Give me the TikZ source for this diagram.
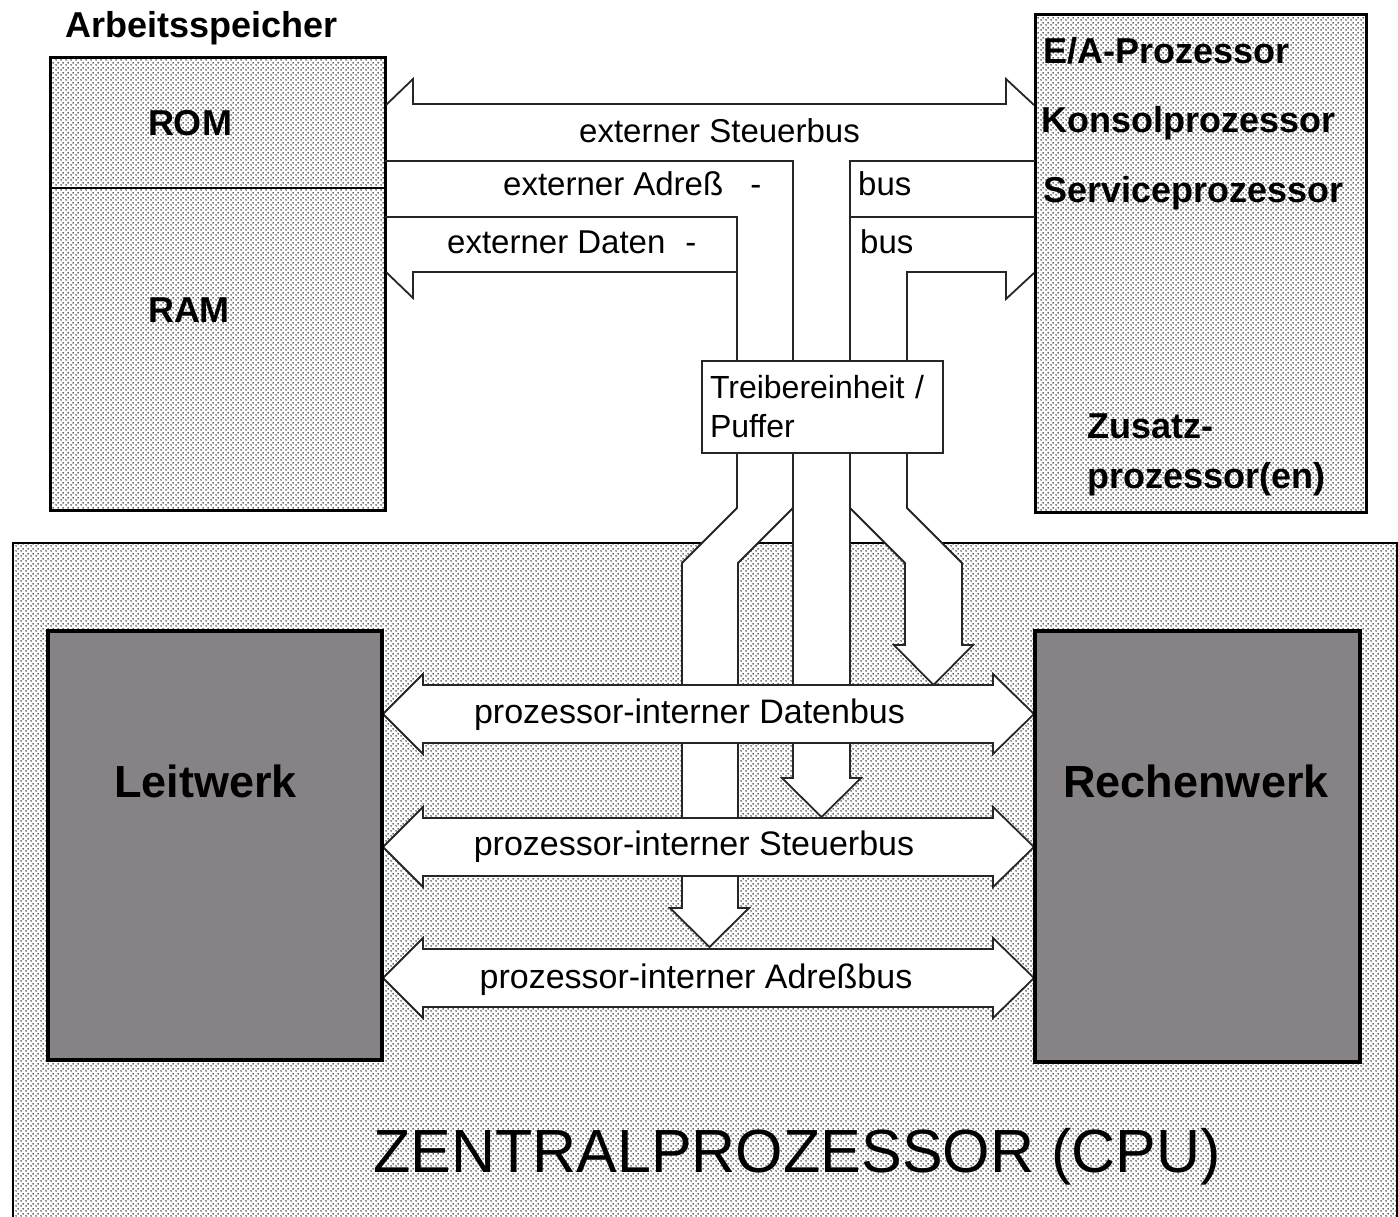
\documentclass[tikz,border=0pt]{standalone}
\usepackage{fontspec}
\setmainfont{Liberation Sans}
\usetikzlibrary{patterns}
\pgfdeclarepatternformonly{halftone}{\pgfpointorigin}{\pgfqpoint{5pt}{5pt}}{\pgfqpoint{5pt}{5pt}}{%
  \pgfpathcircle{\pgfqpoint{1.25pt}{1.25pt}}{1pt}%
  \pgfpathcircle{\pgfqpoint{3.75pt}{3.75pt}}{1pt}%
  \pgfusepath{fill}}
\definecolor{unitgray}{RGB}{134,130,134}
\definecolor{dotcol}{RGB}{45,45,45}
\begin{document}
\begin{tikzpicture}[x=1pt,y=-1pt,
  dotfill/.style={preaction={fill=white}, pattern=halftone, pattern color=dotcol},
  membox/.style={draw=black, line width=3pt, dotfill, inner sep=0pt},
  cpubox/.style={draw=black, line width=2pt, dotfill, inner sep=0pt},
  unitbox/.style={draw=black, line width=3.5pt, fill=unitgray, inner sep=0pt},
  drvbox/.style={draw=black!85, line width=1.8pt, fill=white, align=left,
    text width=225pt, inner xsep=8pt, inner ysep=0pt,
    font=\fontsize{32}{39}\selectfont},
  busline/.style={draw=black!85, line width=1.8pt, line join=miter},
  busfill/.style={busline, fill=white},
  lbl/.style={font=\fontsize{33}{40}\selectfont, inner sep=0pt},
  ilbl/.style={font=\fontsize{34}{40}\selectfont, inner sep=0pt, anchor=base},
  blbl/.style={font=\bfseries\fontsize{36}{44}\selectfont, inner sep=0pt},
  ulbl/.style={font=\bfseries\fontsize{45}{50}\selectfont, inner sep=0pt, anchor=base},
  tlbl/.style={font=\fontsize{61}{70}\selectfont, inner sep=0pt, anchor=base}
]
\useasboundingbox (0,0) rectangle (1398,1216);
\clip (0,0) rectangle (1398,1216);

% CPU frame
\node[cpubox, minimum width=1384pt, minimum height=677pt] (cpu) at (705,881.5) {};

% memory and processors
\node[membox, minimum width=335pt, minimum height=453pt] (mem) at (217.5,283.5) {};
\draw[line width=1.5pt] (50,188) -- (385,188);
\node[membox, minimum width=331pt, minimum height=498pt] (iop) at (1200.5,263) {};

% external buses
\draw[busline] (386,105) -- (413,79) -- (413,104) -- (1006,104) -- (1006,79) -- (1034,105);
\draw[busline] (386,272) -- (413,298) -- (413,272) -- (737,272);
\draw[busline] (385,161) -- (793,161) -- (793,361);
\draw[busline] (385,217) -- (737,217) -- (737,361);
\draw[busline] (1035,161) -- (850,161) -- (850,361);
\draw[busline] (1035,217) -- (850,217);
\draw[busline] (1034,273) -- (1006,299) -- (1006,272) -- (907,272) -- (907,361);

% driver unit
\node[drvbox, minimum height=92pt] (drv) at (822.5,407) {Treibereinheit /\\Puffer};

% channels into the CPU
\path[busfill] (737,453) -- (737,508) -- (682,563) -- (682,908) -- (670,908) -- (709.5,947)
  -- (749,908) -- (738,908) -- (738,563) -- (793,508) -- (793,453) -- cycle;
\path[busfill] (793,453) -- (793,778) -- (782,778) -- (821.5,817) -- (861,778) -- (850,778)
  -- (850,453) -- cycle;
\path[busfill] (850,453) -- (850,508) -- (905,563) -- (905,645) -- (894,645) -- (933.5,685)
  -- (973,645) -- (962,645) -- (962,563) -- (907,508) -- (907,453) -- cycle;

% internal double arrows
\foreach \y in {714,847,978}{
  \path[busfill] (383,\y) -- (423,\y-40) -- (423,\y-29) -- (993,\y-29) -- (993,\y-40)
    -- (1034,\y) -- (993,\y+40) -- (993,\y+29) -- (423,\y+29) -- (423,\y+40) -- cycle;
}

% units
\node[unitbox, minimum width=334pt, minimum height=429pt] (lw) at (215,845.5) {};
\node[unitbox, minimum width=325pt, minimum height=431pt] (rw) at (1197.5,846.5) {};

% labels
\node[blbl, anchor=base west] (tmem) at (65,37) {Arbeitsspeicher};
\node[blbl, anchor=base] (trom) at (190,135) {ROM};
\node[blbl, anchor=base] (tram) at (189,322) {RAM};
\node[blbl, anchor=base west] (tea) at (1043,63) {E/A-Prozessor};
\node[blbl, anchor=base west] (tkon) at (1041,132) {Konsolprozessor};
\node[blbl, anchor=base west] (tser) at (1043,202) {Serviceprozessor};
\node[blbl, anchor=base west] (tzu1) at (1087,438) {Zusatz-};
\node[blbl, anchor=base west] (tzu2) at (1087,488) {prozessor(en)};

\node[lbl, anchor=base] (tes) at (719.5,142) {externer Steuerbus};
\node[lbl, anchor=base west] (tea1) at (503,195) {externer Adreß\hspace{27pt}-};
\node[lbl, anchor=base west] (tea2) at (858,195) {bus};
\node[lbl, anchor=base west] (ted1) at (447,253) {externer Daten\hspace{20pt}-};
\node[lbl, anchor=base west] (ted2) at (860,253) {bus};

\node[ilbl] (tid) at (689.5,723) {prozessor-interner Datenbus};
\node[ilbl] (tis) at (694,855) {prozessor-interner Steuerbus};
\node[ilbl] (tia) at (696,988) {prozessor-interner Adreßbus};

\node[ulbl] (tlw) at (205.5,797) {Leitwerk};
\node[ulbl] (trw) at (1196,797) {Rechenwerk};
\node[tlbl] (tcpu) at (797,1172) {ZENTRALPROZESSOR (CPU)};
\end{tikzpicture}
\end{document}
